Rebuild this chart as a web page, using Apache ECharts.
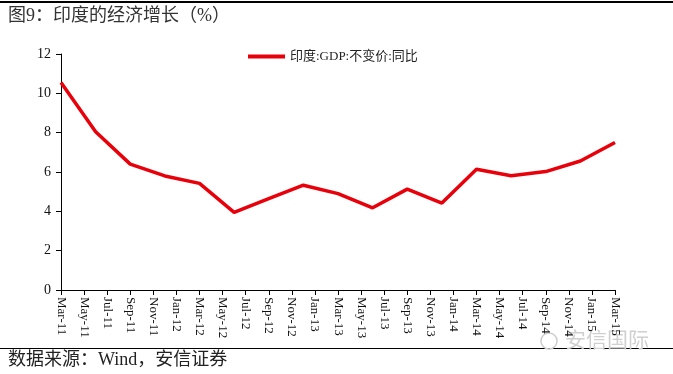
<!DOCTYPE html>
<html><head><meta charset="utf-8">
<script src="https://cdn.jsdelivr.net/npm/echarts@6/dist/echarts.min.js"></script>
<style>html,body{margin:0;padding:0;background:#fff}#c{width:673px;height:374px}</style>
</head><body><div id="c"></div>
<script>
const months = ['Mar-11','Apr-11','May-11','Jun-11','Jul-11','Aug-11','Sep-11','Oct-11','Nov-11','Dec-11',
'Jan-12','Feb-12','Mar-12','Apr-12','May-12','Jun-12','Jul-12','Aug-12','Sep-12','Oct-12','Nov-12','Dec-12',
'Jan-13','Feb-13','Mar-13','Apr-13','May-13','Jun-13','Jul-13','Aug-13','Sep-13','Oct-13','Nov-13','Dec-13',
'Jan-14','Feb-14','Mar-14','Apr-14','May-14','Jun-14','Jul-14','Aug-14','Sep-14','Oct-14','Nov-14','Dec-14',
'Jan-15','Feb-15','Mar-15'];
const quarters = ['Mar-11','Jun-11','Sep-11','Dec-11','Mar-12','Jun-12','Sep-12','Dec-12','Mar-13','Jun-13',
'Sep-13','Dec-13','Mar-14','Jun-14','Sep-14','Dec-14','Mar-15'];
const gdp = [10.55,8.05,6.4,5.8,5.42,3.95,4.65,5.33,4.9,4.18,5.13,4.42,6.14,5.81,6.02,6.56,7.5];
const seriesName = '印度:GDP:不变价:同比';
const titleText = '图9：印度的经济增长（%）';
const sourceText = '数据来源：Wind，安信证券';
const FONT = '"Liberation Serif", "Noto Sans CJK SC", serif';

const chart = echarts.init(document.getElementById('c'));
chart.setOption({
  animation: false,
  textStyle: {fontFamily: FONT},
  grid: {left: 61, right: 58, top: 54, bottom: 84},
  legend: {
    data: [seriesName], top: 45, left: 243,
    itemWidth: 37, itemHeight: 4, itemGap: 1, icon: 'rect',
    textStyle: {fontFamily: FONT, fontSize: 13, color: '#222'}
  },
  xAxis: {
    type: 'category', data: months, boundaryGap: false,
    axisLine: {lineStyle: {color: '#000', width: 1}},
    axisTick: {interval: 1, length: 5, lineStyle: {color: '#000'}},
    axisLabel: {interval: 1, rotate: -90, fontSize: 13, color: '#111', margin: 7, fontFamily: FONT}
  },
  yAxis: {
    type: 'value', min: 0, max: 12, interval: 2,
    splitLine: {show: false},
    axisLine: {show: true, lineStyle: {color: '#000', width: 1}},
    axisTick: {show: true, length: 5, lineStyle: {color: '#000'}},
    axisLabel: {fontSize: 14, color: '#111', margin: 10, fontFamily: FONT}
  },
  series: [{
    name: seriesName, type: 'line', symbol: 'none',
    data: quarters.map((q, i) => [q, gdp[i]]),
    lineStyle: {color: '#e8000b', width: 3.5},
    itemStyle: {color: '#e8000b'}
  }],
  graphic: [
    {type: 'rect', shape: {x: 0, y: 1, width: 673, height: 2}, style: {fill: '#000'}},
    {type: 'text', left: 8, top: 7, style: {text: titleText, font: '18px ' + FONT, fill: '#333'}},
    {type: 'rect', shape: {x: 0, y: 348, width: 673, height: 1}, style: {fill: '#000'}},
    {type: 'text', left: 8, top: 351, style: {text: sourceText, font: '18px ' + FONT, fill: '#222'}},
    {type: 'circle', shape: {cx: 549, cy: 341, r: 8}, style: {fill: 'none', stroke: '#ccc', lineWidth: 1.5}},
    {type: 'text', left: 565, top: 329, style: {text: '安信国际', font: '21px "Noto Sans CJK SC"', fill: '#d0d0d0'}}
  ]
});
</script></body></html>
